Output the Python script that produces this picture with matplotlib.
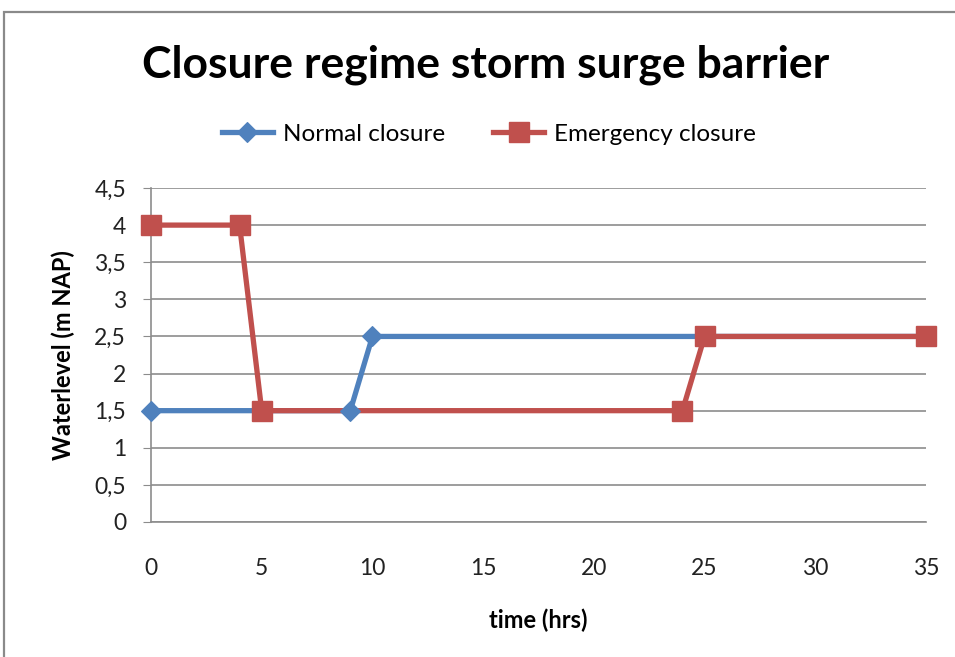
import matplotlib.pyplot as plt
from matplotlib.patches import Rectangle
from matplotlib.ticker import FuncFormatter, MultipleLocator

# Series data: time in hours, water level in m NAP
normal_time = [0, 5, 9, 10, 25, 35]
normal_level = [1.5, 1.5, 1.5, 2.5, 2.5, 2.5]
emergency_time = [0, 4, 5, 24, 25, 35]
emergency_level = [4, 4, 1.5, 1.5, 2.5, 2.5]

title = "Closure regime storm surge barrier"
x_label = "time (hrs)"
y_label = "Waterlevel (m NAP)"
normal_name = "Normal closure"
emergency_name = "Emergency closure"

BLUE = "#4F81BD"
RED = "#C0504D"
GRID = "#8C8C8C"
FONT = ["Lato", "DejaVu Sans"]

plt.rcParams["font.family"] = FONT

fig = plt.figure(figsize=(9.55, 6.57), dpi=100)
fig.patch.set_facecolor("white")

# chart frame (extends past the right and bottom edges)
fig.add_artist(Rectangle((4 / 955, -0.1), 1.2, 1 - 12 / 657 + 0.1,
                         transform=fig.transFigure, fill=False,
                         edgecolor="#8A8A8A", linewidth=1.6))

ax = fig.add_axes([151 / 955, (657 - 522) / 657, 775 / 955, 334 / 657])

# lines first, then markers on top of both lines
ax.plot(normal_time, normal_level, color=BLUE, linewidth=3.8, zorder=3,
        solid_capstyle="round", clip_on=False)
ax.plot(emergency_time, emergency_level, color=RED, linewidth=3.8, zorder=3,
        solid_capstyle="round", clip_on=False)
ax.plot(normal_time, normal_level, linestyle="none", marker="D",
        markersize=10.5, markeredgewidth=0.8, color=BLUE, zorder=4,
        clip_on=False)
ax.plot(emergency_time, emergency_level, linestyle="none", marker="s",
        markersize=14, color=RED, zorder=5, clip_on=False)

ax.set_xlim(0, 35)
ax.set_ylim(0, 4.5)
ax.xaxis.set_major_locator(MultipleLocator(5))
ax.yaxis.set_major_locator(MultipleLocator(0.5))
ax.yaxis.set_major_formatter(FuncFormatter(
    lambda v, p: (f"{v:g}").replace(".", ",")))

ax.grid(axis="y", color=GRID, linewidth=1.2, zorder=1)
ax.set_axisbelow(True)
for side in ("top", "right"):
    ax.spines[side].set_visible(False)
for side in ("left", "bottom"):
    ax.spines[side].set_color(GRID)
    ax.spines[side].set_linewidth(1.2)
ax.tick_params(axis="y", direction="out", length=6, color=GRID,
               labelsize=16.5, pad=12, labelcolor="#222222")
ax.tick_params(axis="x", direction="in", length=0, color=GRID,
               labelsize=16.5, pad=26, labelcolor="#222222")
for lbl in ax.get_xticklabels() + ax.get_yticklabels():
    lbl.set_clip_on(False)

ax.set_xlabel(x_label, fontsize=17, fontweight="bold", labelpad=21)
ax.set_ylabel(y_label, fontsize=17, fontweight="bold", labelpad=14)

fig.text(486 / 955, 1 - 65 / 657, title, ha="center", va="center",
         fontsize=32, fontweight="bold")

# legend
leg = fig.legend(
    handles=[
        plt.Line2D([], [], color=BLUE, linewidth=3.8, marker="D",
                   markersize=10.5, markeredgewidth=0.8),
        plt.Line2D([], [], color=RED, linewidth=3.8, marker="s",
                   markersize=14),
    ],
    labels=[normal_name, emergency_name],
    loc="center", bbox_to_anchor=(489 / 955, 1 - 134 / 657), ncol=2,
    frameon=False, fontsize=17.5, handlelength=2.1, handletextpad=0.4,
    columnspacing=2.0,
)

fig.savefig("out.png", dpi=100, facecolor="white")
